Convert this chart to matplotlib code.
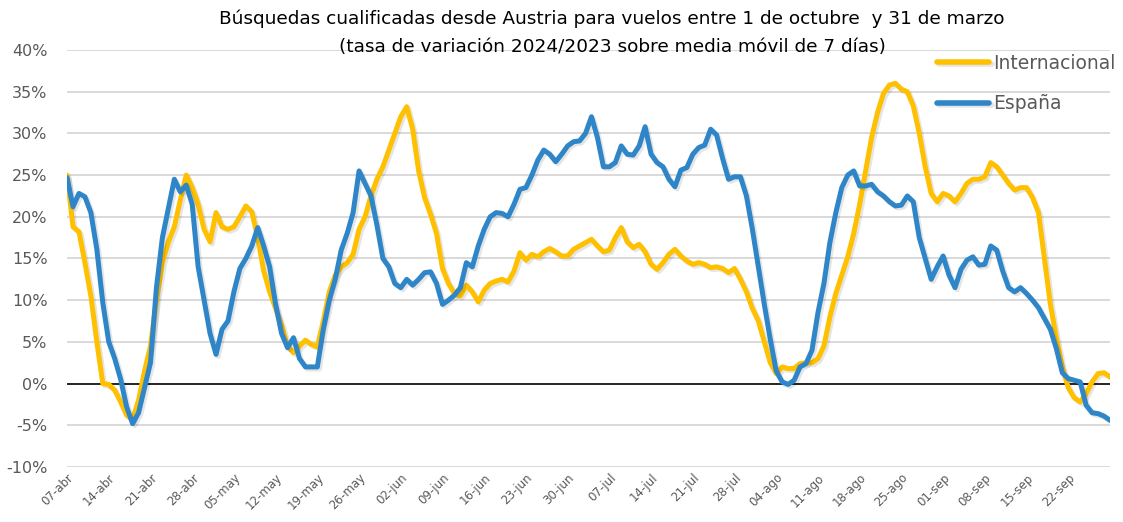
import matplotlib
matplotlib.use("Agg")
import matplotlib.pyplot as plt
import matplotlib.patheffects as pe

# Daily 7-day moving-average change 2024/2023 (%), from 07-abr onwards
internacional = [
    25.0, 18.8, 18.2, 14.5, 10.5, 5.0, 0.0, -0.1, -0.8, -2.2,
    -3.8, -4.3, -2.0, 1.5, 4.5, 10.0, 14.5, 17.0, 18.8, 22.0,
    25.0, 23.5, 21.5, 18.5, 17.0, 20.5, 18.8, 18.5, 18.8, 20.0,
    21.3, 20.6, 17.5, 13.5, 11.0, 9.0, 7.0, 4.5, 3.7, 4.5,
    5.2, 4.7, 4.4, 7.5, 11.0, 13.0, 14.0, 14.5, 15.5, 18.5,
    20.0, 22.5, 24.5, 26.0, 28.0, 30.0, 32.0, 33.2, 30.5, 25.5,
    22.3, 20.3, 18.0, 13.8, 12.0, 10.8, 10.5, 11.8, 11.0, 9.8,
    11.2, 12.0, 12.3, 12.5, 12.2, 13.5, 15.7, 14.8, 15.5, 15.2,
    15.8, 16.2, 15.8, 15.3, 15.3, 16.1, 16.5, 16.9, 17.3, 16.5,
    15.8, 16.0, 17.5, 18.7, 17.0, 16.3, 16.7, 15.8, 14.3, 13.7,
    14.5, 15.5, 16.1, 15.3, 14.7, 14.3, 14.5, 14.3, 13.9, 14.0,
    13.8, 13.3, 13.8, 12.5, 11.0, 9.0, 7.5, 5.0, 2.5, 1.2,
    2.0, 1.8, 1.8, 2.4, 2.5, 2.5, 3.0, 4.5, 8.0, 10.8,
    13.0, 15.2, 18.0, 21.5, 25.5, 29.5, 32.5, 34.8, 35.8, 36.0,
    35.3, 35.0, 33.3, 30.0, 26.0, 22.8, 21.8, 22.8, 22.5, 21.8,
    22.8, 24.0, 24.5, 24.5, 24.8, 26.5, 26.0, 25.0, 24.0, 23.2,
    23.5, 23.5, 22.3, 20.5, 15.0, 9.5, 5.5, 2.0, -0.5, -1.7,
    -2.2, -1.2, 0.2, 1.2, 1.3, 0.8,
]

espana = [
    24.7, 21.2, 22.8, 22.4, 20.5, 16.1, 9.7, 5.0, 3.0, 0.5,
    -2.8, -4.8, -3.5, -0.5, 2.5, 11.5, 17.5, 21.0, 24.5, 23.0,
    23.8, 21.5, 14.0, 10.0, 6.0, 3.5, 6.5, 7.5, 11.0, 13.8,
    15.0, 16.5, 18.7, 16.5, 14.0, 9.5, 6.0, 4.3, 5.5, 3.0,
    2.0, 2.0, 2.0, 6.5, 10.0, 12.5, 16.0, 18.0, 20.5, 25.5,
    24.0, 22.5, 19.0, 15.0, 14.0, 12.0, 11.5, 12.5, 11.8, 12.5,
    13.3, 13.4, 12.0, 9.5, 10.0, 10.6, 11.5, 14.5, 14.0, 16.5,
    18.5, 20.0, 20.5, 20.4, 20.0, 21.5, 23.3, 23.5, 25.0, 26.8,
    28.0, 27.5, 26.6, 27.5, 28.5, 29.0, 29.1, 30.0, 32.0, 29.5,
    26.0, 26.0, 26.5, 28.5, 27.5, 27.4, 28.5, 30.8, 27.5, 26.5,
    26.0, 24.5, 23.6, 25.6, 25.9, 27.5, 28.3, 28.6, 30.5, 29.8,
    27.0, 24.5, 24.8, 24.8, 22.5, 18.5, 14.0, 9.5, 5.3, 1.5,
    0.2, -0.1, 0.4, 2.0, 2.4, 4.0, 8.5, 12.0, 16.9, 20.5,
    23.5, 25.0, 25.5, 23.7, 23.7, 23.9, 23.0, 22.5, 21.8, 21.3,
    21.4, 22.5, 21.8, 17.5, 15.0, 12.5, 14.0, 15.3, 13.0, 11.5,
    13.7, 14.8, 15.2, 14.2, 14.3, 16.5, 16.0, 13.5, 11.5, 11.0,
    11.5, 10.8, 10.0, 9.1, 7.8, 6.5, 4.2, 1.3, 0.6, 0.4,
    0.2, -2.6, -3.5, -3.6, -3.9, -4.4,
]

# one label every 7 days
tick_labels = [
    "07-abr", "14-abr", "21-abr", "28-abr", "05-may", "12-may", "19-may",
    "26-may", "02-jun", "09-jun", "16-jun", "23-jun", "30-jun", "07-jul",
    "14-jul", "21-jul", "28-jul", "04-ago", "11-ago", "18-ago", "25-ago",
    "01-sep", "08-sep", "15-sep", "22-sep",
]
y_ticks = [-10, -5, 0, 5, 10, 15, 20, 25, 30, 35, 40]

YELLOW = "#FFC000"
BLUE = "#2E86C8"
GRAY_TXT = "#595959"

fig = plt.figure(figsize=(11.23, 5.22), dpi=100)
ax = fig.add_axes([0.0597, 0.1054, 0.9287, 0.7988])

days = list(range(len(internacional)))
shadow = [pe.SimpleLineShadow(offset=(1.5, -1.5), shadow_color="#000000", alpha=0.1),
          pe.Normal()]

ax.plot(days, internacional, color=YELLOW, lw=3.6, label="Internacional",
        solid_capstyle="round", solid_joinstyle="round", path_effects=shadow, zorder=3)
ax.plot(days, espana, color=BLUE, lw=3.6, label="España",
        solid_capstyle="round", solid_joinstyle="round", path_effects=shadow, zorder=4)

ax.axhline(0, color="#262626", lw=1.4, zorder=2)

ax.set_xlim(0, len(days) - 1)
ax.set_ylim(-10, 40)
ax.set_yticks(y_ticks)
ax.set_yticklabels([f"{v}%" for v in y_ticks], color=GRAY_TXT, fontsize=11.5)
ax.set_xticks(range(0, 7 * len(tick_labels), 7))
ax.set_xticklabels(tick_labels, rotation=45, ha="right", rotation_mode="anchor",
                   color=GRAY_TXT, fontsize=8.5)
ax.tick_params(axis="both", length=0)
ax.tick_params(axis="y", pad=14)
ax.tick_params(axis="x", pad=3)
ax.grid(axis="y", color="#D9D9D9", lw=1.4, zorder=0)
ax.set_axisbelow(True)
for s in ax.spines.values():
    s.set_visible(False)

fig.text(0.545, 0.965, "Búsquedas cualificadas desde Austria para vuelos entre 1 de octubre  y 31 de marzo",
         ha="center", va="center", fontsize=13.3, color="#000000")
fig.text(0.545, 0.91, "(tasa de variación 2024/2023 sobre media móvil de 7 días)",
         ha="center", va="center", fontsize=13.3, color="#000000")

leg = ax.legend(loc="upper left", bbox_to_anchor=(0.826, 0.915), bbox_transform=fig.transFigure,
                frameon=False, fontsize=13.5, handlelength=2.8, handletextpad=0.2,
                labelspacing=1.15, labelcolor=GRAY_TXT, borderpad=0)
for h in leg.legend_handles:
    h.set_linewidth(4)

fig.savefig("out.png", dpi=100)
